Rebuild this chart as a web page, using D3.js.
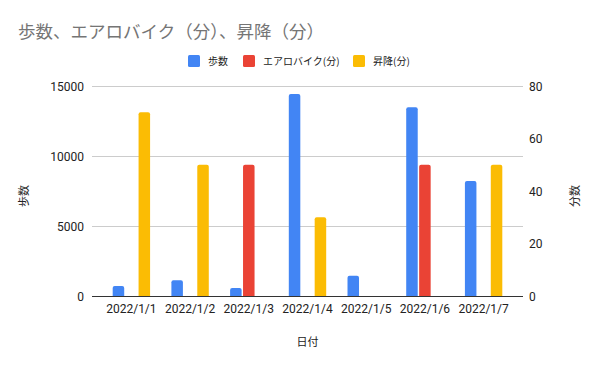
<!DOCTYPE html>
<html>
<head>
<meta charset="utf-8">
<script src="https://cdn.jsdelivr.net/npm/d3@7"></script>
<style>
  html, body { margin: 0; padding: 0; background: #fff; }
  svg { display: block; }
</style>
</head>
<body>
<svg id="chart" width="600" height="367"></svg>
<script>
const categories = ["2022/1/1", "2022/1/2", "2022/1/3", "2022/1/4", "2022/1/5", "2022/1/6", "2022/1/7"];
const seriesNames = ["歩数", "エアロバイク(分)", "昇降(分)"];
const steps = [720, 1130, 580, 14430, 1440, 13480, 8220];
const aerobike = [0, 0, 50, 0, 0, 50, 0];
const stairs = [70, 50, 0, 30, 0, 0, 50];
const leftTicks = [0, 5000, 10000, 15000];
const rightTicks = [0, 20, 40, 60, 80];
const colors = ["#4285F4", "#EA4335", "#FBBC04"];

const CJK = "'Noto Sans CJK JP', 'Noto Sans', sans-serif";
const LAT = "Roboto, 'Liberation Sans', Arial, sans-serif";

const svg = d3.select("#chart");
const pL = 92, pR = 523, pT = 86, pB = 296;

const x0 = d3.scaleBand().domain(categories).range([pL, pR]).paddingInner(0.363).paddingOuter(0.3525);
const x1 = d3.scaleBand().domain(seriesNames).range([0, x0.bandwidth()]).paddingInner(0.11);
const yL = d3.scaleLinear().domain([0, 15000]).range([pB, pT]);
const yR = d3.scaleLinear().domain([0, 80]).range([pB, pT]);

// gridlines
svg.append("g").selectAll("line").data(leftTicks.filter(d => d > 0)).join("line")
  .attr("x1", pL).attr("x2", pR)
  .attr("y1", d => Math.round(yL(d)) + 0.5).attr("y2", d => Math.round(yL(d)) + 0.5)
  .attr("stroke", "#cccccc").attr("stroke-width", 1);

// bars
function topRounded(x, y, w, h, r) {
  if (h <= 0) return "";
  r = Math.min(r, h, w / 2);
  return `M${x},${y + h}V${y + r}Q${x},${y} ${x + r},${y}H${x + w - r}Q${x + w},${y} ${x + w},${y + r}V${y + h}Z`;
}
const rows = categories.map((c, i) => ({
  cat: c,
  vals: [
    { s: seriesNames[0], v: steps[i], scale: yL, color: colors[0] },
    { s: seriesNames[1], v: aerobike[i], scale: yR, color: colors[1] },
    { s: seriesNames[2], v: stairs[i], scale: yR, color: colors[2] }
  ]
}));
const groups = svg.append("g").selectAll("g").data(rows).join("g")
  .attr("transform", d => `translate(${x0(d.cat)},0)`);
groups.selectAll("path").data(d => d.vals.filter(v => v.v > 0)).join("path")
  .attr("d", d => {
    const y = d.scale(d.v);
    return topRounded(x1(d.s), y, x1.bandwidth(), pB - y, 2);
  })
  .attr("fill", d => d.color);

// baseline
svg.append("line").attr("x1", pL).attr("x2", pR)
  .attr("y1", pB + 0.5).attr("y2", pB + 0.5)
  .attr("stroke", "#333333").attr("stroke-width", 1);

// left axis labels
const axL = d3.axisLeft(yL).tickValues(leftTicks).tickSize(0).tickPadding(0).tickFormat(d3.format("d"));
const gL = svg.append("g").attr("transform", `translate(${pL - 8},0)`).call(axL);
gL.select(".domain").remove();
gL.selectAll("text").attr("font-family", LAT).attr("font-size", 12).attr("fill", "#222").attr("dy", "0.35em");

// right axis labels
const axR = d3.axisRight(yR).tickValues(rightTicks).tickSize(0).tickPadding(0).tickFormat(d3.format("d"));
const gR = svg.append("g").attr("transform", `translate(${pR + 6},0)`).call(axR);
gR.select(".domain").remove();
gR.selectAll("text").attr("font-family", LAT).attr("font-size", 12).attr("fill", "#222").attr("dy", "0.35em");

// x axis labels
const axX = d3.axisBottom(x0).tickSize(0).tickPadding(0);
const gX = svg.append("g").attr("transform", `translate(0,${pB + 8})`).call(axX);
gX.select(".domain").remove();
gX.selectAll("text").attr("font-family", LAT).attr("font-size", 12).attr("fill", "#222").attr("dy", "0.71em");

// axis titles
svg.append("text").attr("x", (pL + pR) / 2).attr("y", 346).attr("text-anchor", "middle")
  .attr("font-family", CJK).attr("font-size", 11).attr("fill", "#222").text("日付");
svg.append("text").attr("transform", `translate(28,${(pT + pB) / 2 + 5}) rotate(-90)`).attr("text-anchor", "middle")
  .attr("font-family", CJK).attr("font-size", 11).attr("fill", "#222").text("歩数");
svg.append("text").attr("transform", `translate(579,${(pT + pB) / 2 + 5}) rotate(-90)`).attr("text-anchor", "middle")
  .attr("font-family", CJK).attr("font-size", 11).attr("fill", "#222").text("分数");

// title
svg.append("text").attr("x", 18).attr("y", 38)
  .attr("font-family", CJK).attr("font-size", 17.5).attr("fill", "#757575")
  .text("歩数、エアロバイク（分）、昇降（分）");

// legend
const legendX = [188, 243, 353];
const lg = svg.append("g").selectAll("g").data(seriesNames).join("g")
  .attr("transform", (d, i) => `translate(${legendX[i]},0)`);
lg.append("rect").attr("x", 0).attr("y", 55).attr("width", 12).attr("height", 12).attr("rx", 1.5).attr("fill", (d, i) => colors[i]);
lg.append("text").attr("x", 20).attr("y", 65).attr("font-family", CJK).attr("font-size", 10).attr("fill", "#222").text(d => d);
</script>
</body>
</html>
